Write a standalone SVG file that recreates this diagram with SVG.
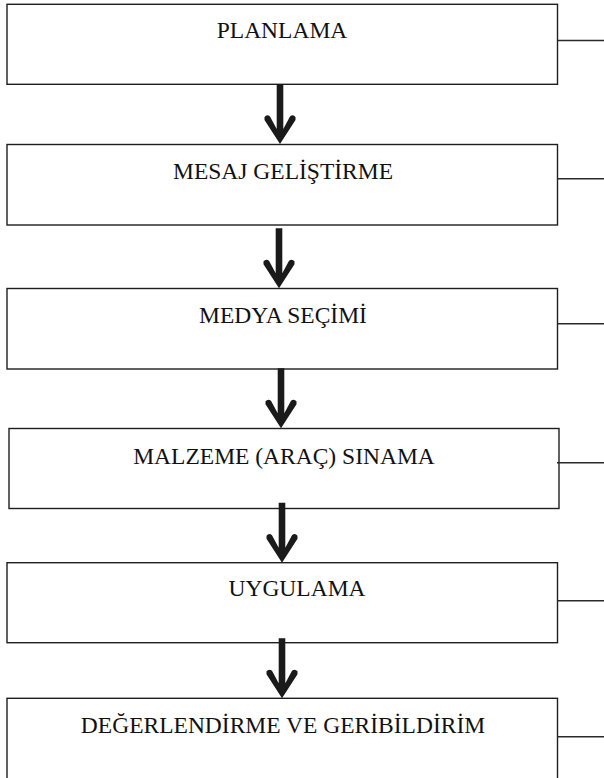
<svg xmlns="http://www.w3.org/2000/svg" width="604" height="778" viewBox="0 0 604 778">
<style>
.box{fill:#fff;stroke:#1e1e1e;stroke-width:1.4}
.side{stroke:#2a2a2a;stroke-width:1.6;fill:none}
.lbl{font-family:"Liberation Serif","Times New Roman",serif;font-size:23.5px;fill:#111;text-anchor:middle}
.arw{fill:#1a1a1a}
</style>
<defs>
<path id="arrow" d="M -3.3,-60 L 3.3,-60 L 3.3,-15 L 10,-27.5 Q 13,-30 15.5,-27 L 15.5,-24 L 0,0 L -15.5,-24 L -15.5,-27 Q -13,-30 -10,-27.5 L -3.3,-15 Z"/>
</defs>
<rect width="604" height="778" fill="#fff"/>
<g id="n1"><rect class="box" x="7" y="4.3" width="550.5" height="80"/><text class="lbl" x="282" y="38.3">PLANLAMA</text></g>
<g id="n2"><rect class="box" x="7" y="144.5" width="550.5" height="80.5"/><text class="lbl" x="283" y="179">MESAJ GELİŞTİRME</text></g>
<g id="n3"><rect class="box" x="7" y="288.5" width="550.5" height="80.5"/><text class="lbl" x="283" y="323">MEDYA SEÇİMİ</text></g>
<g id="n4"><rect class="box" x="9" y="428.5" width="550" height="80"/><text class="lbl" x="284" y="464">MALZEME (ARAÇ) SINAMA</text></g>
<g id="n5"><rect class="box" x="7" y="562.7" width="550.5" height="80"/><text class="lbl" x="297" y="596">UYGULAMA</text></g>
<g id="n6"><rect class="box" x="7" y="698.3" width="550.5" height="84"/><text class="lbl" x="283" y="733">DEĞERLENDİRME VE GERİBİLDİRİM</text></g>
<g id="connectors">
<line class="side" x1="557.5" y1="40.5" x2="604" y2="40.5"/>
<line class="side" x1="557.5" y1="178.7" x2="604" y2="178.7"/>
<line class="side" x1="557.5" y1="323.7" x2="604" y2="323.7"/>
<line class="side" x1="557" y1="462.7" x2="604" y2="462.7"/>
<line class="side" x1="557.5" y1="600.7" x2="604" y2="600.7"/>
<line class="side" x1="557.5" y1="736.7" x2="604" y2="736.7"/>
<use class="arw" href="#arrow" transform="translate(280,144)"/>
<use class="arw" href="#arrow" transform="translate(279,288.3)"/>
<use class="arw" href="#arrow" transform="translate(281,428.3)"/>
<use class="arw" href="#arrow" transform="translate(282,562.7)"/>
<use class="arw" href="#arrow" transform="translate(282,698.3)"/>
</g>
</svg>
